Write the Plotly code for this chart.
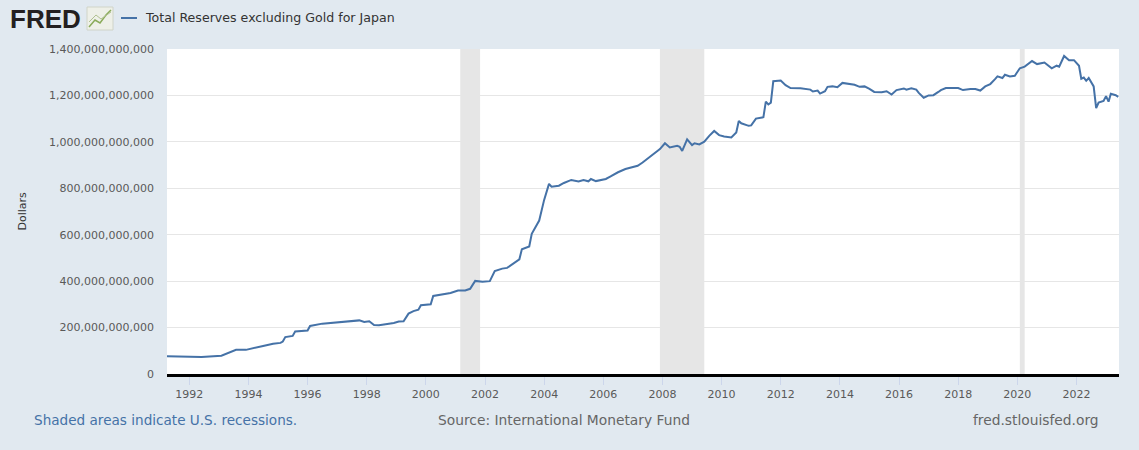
import plotly.graph_objects as go

# Total Reserves excluding Gold for Japan, billions of dollars
dates = [
    "1991-04", "1991-12", "1992-06", "1993-02", "1993-04", "1993-06", "1993-08", "1993-12",
    "1994-03", "1994-07", "1994-11", "1995-02", "1995-03", "1995-04", "1995-07", "1995-08",
    "1996-01", "1996-02", "1996-07", "1997-01", "1997-07", "1997-10", "1997-12", "1998-02",
    "1998-04", "1998-06", "1998-12", "1999-02", "1999-04", "1999-06", "1999-08", "1999-10",
    "1999-11", "2000-03", "2000-04", "2000-08", "2000-11", "2001-02", "2001-05", "2001-07",
    "2001-09", "2001-12", "2002-03", "2002-05", "2002-08", "2002-10", "2003-03", "2003-04",
    "2003-07", "2003-08", "2003-11", "2004-01", "2004-03", "2004-04", "2004-07", "2004-09",
    "2004-12", "2005-03", "2005-05", "2005-07", "2005-08", "2005-10", "2006-02", "2006-04",
    "2006-07", "2006-10", "2007-02", "2007-03", "2007-05", "2007-08", "2007-10", "2007-12",
    "2008-02", "2008-04", "2008-07", "2008-08", "2008-09", "2008-11", "2009-01", "2009-02",
    "2009-04", "2009-06", "2009-08", "2009-10", "2009-12", "2010-02", "2010-05", "2010-07",
    "2010-08", "2010-09", "2010-12", "2011-01", "2011-03", "2011-06", "2011-07", "2011-08",
    "2011-09", "2011-10", "2012-01", "2012-03", "2012-05", "2012-09", "2013-01", "2013-02",
    "2013-04", "2013-05", "2013-07", "2013-08", "2013-10", "2013-12", "2014-02", "2014-05",
    "2014-07", "2014-09", "2014-11", "2015-01", "2015-03", "2015-06", "2015-08", "2015-10",
    "2015-12", "2016-03", "2016-04", "2016-06", "2016-08", "2016-09", "2016-11", "2017-01",
    "2017-03", "2017-05", "2017-06", "2017-08", "2017-11", "2018-01", "2018-03", "2018-06",
    "2018-08", "2018-10", "2018-12", "2019-02", "2019-04", "2019-05", "2019-07", "2019-08",
    "2019-10", "2019-12", "2020-02", "2020-04", "2020-07", "2020-09", "2020-12", "2021-03",
    "2021-05", "2021-06", "2021-08", "2021-10", "2021-12", "2022-02", "2022-03", "2022-04",
    "2022-05", "2022-06", "2022-08", "2022-09", "2022-10", "2022-12", "2023-01", "2023-02",
    "2023-03", "2023-05", "2023-06",
]
reserves_bn = [
    76, 76, 73, 79, 87, 94, 104, 104,
    110, 121, 130, 134, 140, 159, 164, 183,
    187, 207, 217, 223, 226, 231, 224, 227,
    211, 210, 220, 226, 227, 260, 271, 277,
    296, 300, 336, 343, 349, 360, 360, 367,
    401, 397, 400, 443, 454, 457, 494, 537,
    549, 604, 661, 750, 819, 807, 811, 823,
    836, 829, 836, 830, 840, 831, 840, 851,
    869, 883, 894, 897, 911, 937, 954, 969,
    994, 976, 983, 979, 961, 1011, 986, 994,
    989, 1001, 1026, 1047, 1029, 1023, 1019, 1040,
    1090, 1080, 1069, 1071, 1100, 1106, 1173, 1161,
    1169, 1261, 1264, 1244, 1232, 1231, 1225, 1217,
    1221, 1208, 1218, 1237, 1239, 1235, 1254, 1249,
    1246, 1237, 1239, 1228, 1215, 1214, 1218, 1204,
    1223, 1230, 1225, 1231, 1225, 1211, 1190, 1200,
    1201, 1215, 1223, 1232, 1231, 1232, 1223, 1228,
    1228, 1221, 1239, 1249, 1270, 1282, 1275, 1289,
    1282, 1285, 1317, 1324, 1348, 1335, 1342, 1317,
    1328, 1324, 1370, 1352, 1352, 1328, 1272, 1277,
    1263, 1275, 1239, 1145, 1169, 1176, 1197, 1173,
    1207, 1201, 1194,
]

# U.S. recessions (shaded)
rec_start = ["2001-03-01", "2007-12-01", "2020-02-01"]
rec_end = ["2001-11-01", "2009-06-01", "2020-04-01"]

y_ticks = [0, 200e9, 400e9, 600e9, 800e9, 1000e9, 1200e9, 1400e9]

W, H = 1139, 450
L, R, T, B = 167, 20, 49, 76
pw, ph = W - L - R, H - T - B


def px_x(x):
    return (x - L) / pw


def px_y(y):
    return (H - B - y) / ph


FONT = "DejaVu Sans"
LINE_COLOR = "#4572a7"

fig = go.Figure()
fig.add_trace(go.Scatter(
    x=dates, y=[v * 1e9 for v in reserves_bn],
    mode="lines", line=dict(color=LINE_COLOR, width=2),
    name="Total Reserves excluding Gold for Japan",
    showlegend=False,
))

for s, e in zip(rec_start, rec_end):
    fig.add_vrect(x0=s, x1=e, fillcolor="#e6e6e6", line_width=0, layer="below", opacity=1)

# FRED logo box + chart glyph
fig.add_shape(type="rect", xref="paper", yref="paper",
              x0=px_x(87), x1=px_x(113), y0=px_y(30), y1=px_y(7),
              fillcolor="#eef0e8", line=dict(color="#d0d4c8", width=1))
fig.add_shape(type="path", xref="paper", yref="paper",
              path="M %f %f L %f %f L %f %f L %f %f L %f %f" % (
                  px_x(89), px_y(27), px_x(95), px_y(20), px_x(100), px_y(23),
                  px_x(106), px_y(15), px_x(111), px_y(10)),
              line=dict(color="#8aab5a", width=1.5))
fig.add_shape(type="path", xref="paper", yref="paper",
              path="M %f %f L %f %f L %f %f L %f %f" % (
                  px_x(89), px_y(22), px_x(96), px_y(15), px_x(101), px_y(19),
                  px_x(111), px_y(12)),
              line=dict(color="#b0c090", width=1))

# legend swatch
fig.add_shape(type="line", xref="paper", yref="paper",
              x0=px_x(121), x1=px_x(137), y0=px_y(18), y1=px_y(18),
              line=dict(color=LINE_COLOR, width=2))

annotations = [
    dict(text="<b>FRED</b>", x=px_x(8), y=px_y(19), xanchor="left", yanchor="middle",
         font=dict(family="Liberation Sans", size=26, color="#231f20")),
    dict(text="Total Reserves excluding Gold for Japan",
         x=px_x(143), y=px_y(18), xanchor="left", yanchor="middle",
         font=dict(family=FONT, size=12.6, color="#333333")),
    dict(text="Dollars", x=px_x(22), y=0.5, textangle=-90, xanchor="center", yanchor="middle",
         font=dict(family=FONT, size=11, color="#333333")),
    dict(text="Shaded areas indicate U.S. recessions.", x=px_x(32), y=px_y(420),
         xanchor="left", yanchor="middle", font=dict(family=FONT, size=13.6, color=LINE_COLOR)),
    dict(text="Source: International Monetary Fund", x=px_x(564), y=px_y(420),
         xanchor="center", yanchor="middle", font=dict(family=FONT, size=13.8, color="#666666")),
    dict(text="fred.stlouisfed.org", x=px_x(1101), y=px_y(420),
         xanchor="right", yanchor="middle", font=dict(family=FONT, size=13.8, color="#666666")),
]
for a in annotations:
    a.update(xref="paper", yref="paper", showarrow=False)

fig.update_layout(
    width=W, height=H,
    margin=dict(l=L, r=R, t=T, b=B),
    paper_bgcolor="#e1e9f0", plot_bgcolor="#ffffff",
    font=dict(family=FONT, size=11, color="#595959"),
    annotations=annotations,
    xaxis=dict(
        type="date", range=["1991-04-01", "2023-06-10"],
        tick0="1992-01-01", dtick="M24", tickformat="%Y",
        showgrid=False, ticks="outside", ticklen=8, tickcolor="#ccd6eb",
        showline=True, linecolor="#000000", linewidth=3,
        tickfont=dict(size=11, color="#595959"),
    ),
    yaxis=dict(
        range=[0, 1.4e12], tickvals=y_ticks, tickformat=",d",
        showgrid=True, gridcolor="#e6e6e6", gridwidth=1,
        zeroline=False, ticks="", ticklabelstandoff=12,
        tickfont=dict(size=11, color="#595959"),
    ),
)

# drop the browser's default page margin so the figure fills the window
fig.write_html("out.html", config={"displayModeBar": False},
               post_script="document.body.style.margin='0';")
